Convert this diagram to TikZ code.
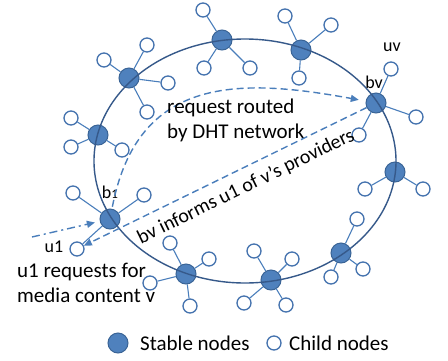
\documentclass[tikz,border=0pt]{standalone}
\usepackage{fontspec}
\setmainfont{Carlito}
\usetikzlibrary{arrows.meta}
\definecolor{stableBlue}{HTML}{4F81BD}
\definecolor{stableEdge}{HTML}{3A6496}
\definecolor{childEdge}{HTML}{4472AE}
\definecolor{linkBlue}{HTML}{4A7EBB}
\definecolor{ringBlue}{HTML}{36598A}
\begin{document}
\begin{tikzpicture}[x=1pt, y=-1pt, stableStyle/.style={circle, draw=stableEdge, fill=stableBlue, line width=1pt, minimum size=20pt, inner sep=0pt}, childStyle/.style={circle, draw=childEdge, fill=white, line width=1.3pt, minimum size=14pt, inner sep=0pt}, linkStyle/.style={draw=linkBlue, line width=1.1pt}, labelStyle/.style={font=\fontsize{18}{20}\selectfont, inner sep=0pt}, textStyle/.style={font=\fontsize{21}{25}\selectfont, align=left, anchor=west, inner sep=0pt}, msgStyle/.style={draw=linkBlue, line width=1.4pt, dash pattern=on 7pt off 4pt, -{Triangle[length=8pt,width=7pt]}}]
    \useasboundingbox (0, 0) rectangle (448, 360);

    \node[stableStyle] (s0) at ( 98, 135) {};
    \node[stableStyle] (s1) at (129,  78) {};
    \node[stableStyle] (s2) at (222,  40) {};
    \node[stableStyle] (s3) at (301,  50) {};
    \node[stableStyle] (bv) at (376, 103) {};
    \node[stableStyle] (s5) at (395, 172) {};
    \node[stableStyle] (s6) at (341, 253) {};
    \node[stableStyle] (s7) at (271, 280) {};
    \node[stableStyle] (s8) at (186, 274) {};
    \node[stableStyle] (b1) at (110, 219) {};

    \node[childStyle] (s0_a) at ( 71, 118) {};
    \node[childStyle] (s0_b) at ( 71, 147) {};
    \node[childStyle] (s0_c) at (122, 150) {};
    \draw[linkStyle] (s0) -- (s0_a);
    \draw[linkStyle] (s0) -- (s0_b);
    \draw[linkStyle] (s0) -- (s0_c);

    \node[childStyle] (s1_a) at (147,  45) {};
    \node[childStyle] (s1_b) at (104,  60) {};
    \node[childStyle] (s1_c) at (168,  83) {};
    \node[childStyle] (s1_d) at (147, 112) {};
    \draw[linkStyle] (s1) -- (s1_a);
    \draw[linkStyle] (s1) -- (s1_b);
    \draw[linkStyle] (s1) -- (s1_c);
    \draw[linkStyle] (s1) -- (s1_d);

    \node[childStyle] (s2_a) at (203,  10) {};
    \node[childStyle] (s2_b) at (204,  68) {};
    \node[childStyle] (s2_c) at (250,  68) {};
    \draw[linkStyle] (s2) -- (s2_a);
    \draw[linkStyle] (s2) -- (s2_b);
    \draw[linkStyle] (s2) -- (s2_c);

    \node[childStyle] (s3_a) at (285,  16) {};
    \node[childStyle] (s3_b) at (331,  25) {};
    \node[childStyle] (s3_c) at (299,  78) {};
    \draw[linkStyle] (s3) -- (s3_a);
    \draw[linkStyle] (s3) -- (s3_b);
    \draw[linkStyle] (s3) -- (s3_c);

    \node[childStyle] (uv)   at (391,  69) {};
    \node[childStyle] (bv_b) at (416, 117) {};
    \node[childStyle] (bv_c) at (359, 135) {};
    \draw[linkStyle] (bv) -- (uv);
    \draw[linkStyle] (bv) -- (bv_b);
    \draw[linkStyle] (bv) -- (bv_c);

    \node[childStyle] (s5_a) at (365, 189) {};
    \node[childStyle] (s5_b) at (423, 189) {};
    \draw[linkStyle] (s5) -- (s5_a);
    \draw[linkStyle] (s5) -- (s5_b);

    \node[childStyle] (s6_a) at (357, 219) {};
    \node[childStyle] (s6_b) at (363, 269) {};
    \node[childStyle] (s6_c) at (331, 277) {};
    \draw[linkStyle] (s6) -- (s6_a);
    \draw[linkStyle] (s6) -- (s6_b);
    \draw[linkStyle] (s6) -- (s6_c);

    \node[childStyle] (s7_a) at (254, 251) {};
    \node[childStyle] (s7_b) at (292, 259) {};
    \node[childStyle] (s7_c) at (244, 303) {};
    \node[childStyle] (s7_d) at (286, 305) {};
    \draw[linkStyle] (s7) -- (s7_a);
    \draw[linkStyle] (s7) -- (s7_b);
    \draw[linkStyle] (s7) -- (s7_c);
    \draw[linkStyle] (s7) -- (s7_d);

    \node[childStyle] (s8_a) at (170, 243) {};
    \node[childStyle] (s8_b) at (209, 259) {};
    \node[childStyle] (s8_c) at (150, 283) {};
    \node[childStyle] (s8_d) at (190, 306) {};
    \draw[linkStyle] (s8) -- (s8_a);
    \draw[linkStyle] (s8) -- (s8_b);
    \draw[linkStyle] (s8) -- (s8_c);
    \draw[linkStyle] (s8) -- (s8_d);

    \node[childStyle] (b1_a) at ( 73, 193) {};
    \node[childStyle] (b1_b) at (144, 195) {};
    \node[childStyle] (u1)   at ( 77, 249) {};
    \draw[linkStyle] (b1) -- (b1_a);
    \draw[linkStyle] (b1) -- (b1_b);
    \draw[linkStyle] (b1) -- (u1);

    \draw[draw=ringBlue, line width=1.4pt] (245, 161) ellipse [x radius=151, y radius=122];

    \node[labelStyle] (uvLabel) at (392,  47) {uv};
    \node[labelStyle] (bvLabel) at (374,  82) {bv};
    \node[labelStyle] (b1Label) at (110, 192) {b{\fontsize{13}{14}\selectfont 1}};
    \node[labelStyle] (u1Label) at ( 54, 247) {u1};

    \draw[msgStyle, shorten <=2pt, shorten >=7pt] (b1) .. controls (138, 75) and (240, 78) .. (bv);
    \node[textStyle] (routeText) at (167, 120) {request routed\\by DHT network};

    \draw[msgStyle] (bv) -- (u1);
    \node[font=\fontsize{20}{24}\selectfont, inner sep=0pt, rotate=26] (informText) at (246, 187) {bv informs u1 of v’s providers};

    \coordinate (reqStart) at (32, 237);
    \draw[msgStyle, dash pattern=on 8pt off 4pt on 2pt off 4pt, shorten >=5pt] (reqStart) -- (b1);
    \node[textStyle] (reqText) at (17, 283) {u1 requests for\\media content v};

    \node[stableStyle] (legStable) at (118, 343) {};
    \node[textStyle] (legStableText) at (140, 343) {Stable nodes};
    \node[childStyle] (legChild) at (274, 343) {};
    \node[textStyle] (legChildText) at (289, 343) {Child nodes};
\end{tikzpicture}
\end{document}
